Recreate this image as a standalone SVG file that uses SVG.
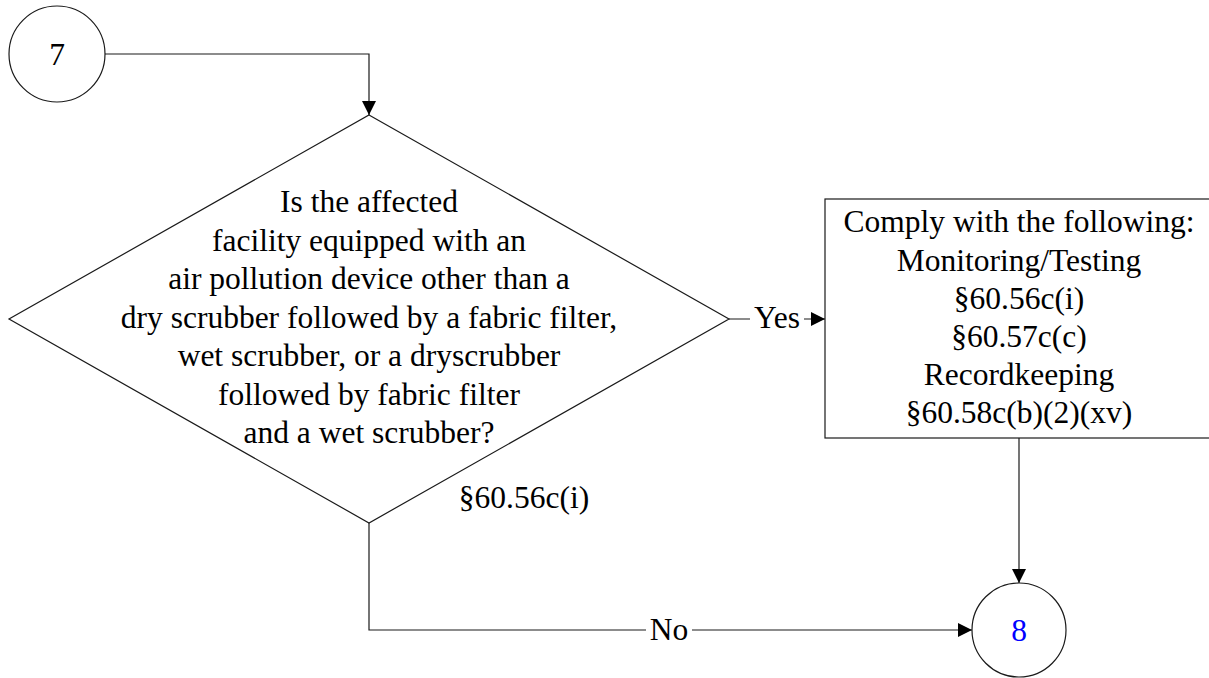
<svg xmlns="http://www.w3.org/2000/svg" width="1209" height="678" viewBox="0 0 1209 678">
<style>
  .shape { fill: #ffffff; stroke: #1a1a1a; stroke-width: 1.2; }
  .conn { fill: none; stroke: #1a1a1a; stroke-width: 1.2; }
  .t { font-family: "Liberation Serif", "Times New Roman", serif; font-size: 31.5px; fill: #000000; text-anchor: middle; }
  .lbl { font-family: "Liberation Serif", "Times New Roman", serif; font-size: 31.5px; fill: #000000; text-anchor: middle; }
</style>
<defs>
  <marker id="arrow" viewBox="0 0 14 14" refX="14" refY="7" markerWidth="14" markerHeight="14" markerUnits="userSpaceOnUse" orient="auto">
    <path d="M0,0 L14,7 L0,14 Z" fill="#000000"/>
  </marker>
</defs>
<rect x="0" y="0" width="1209" height="678" fill="#ffffff"/>

<g id="connectors">
  <path class="conn" d="M105,54 L369,54 L369,115" marker-end="url(#arrow)"/>
  <path class="conn" d="M729,319 L825,319" marker-end="url(#arrow)"/>
  <path class="conn" d="M1019,438 L1019,583" marker-end="url(#arrow)"/>
  <path class="conn" d="M369,523 L369,630 L972,630" marker-end="url(#arrow)"/>
  <rect x="750" y="300" width="54" height="36" fill="#ffffff"/>
  <text class="lbl" x="777" y="328">Yes</text>
  <rect x="646" y="612" width="46" height="36" fill="#ffffff"/>
  <text class="lbl" x="669" y="640">No</text>
</g>

<g id="start7">
  <circle class="shape" cx="57" cy="54" r="48"/>
  <text class="t" x="57" y="65">7</text>
</g>

<g id="decision">
  <polygon class="shape" points="369,115 729,319 369,523 9,319"/>
  <text class="t" x="369" y="212">Is the affected</text>
  <text class="t" x="369" y="250.5">facility equipped with an</text>
  <text class="t" x="369" y="289">air pollution device other than a</text>
  <text class="t" x="369" y="327.5">dry scrubber followed by a fabric filter,</text>
  <text class="t" x="369" y="366">wet scrubber, or a dryscrubber</text>
  <text class="t" x="369" y="404.5">followed by fabric filter</text>
  <text class="t" x="369" y="443">and a wet scrubber?</text>
  <text class="t" x="524" y="508">§60.56c(i)</text>
</g>

<g id="comply">
  <rect class="shape" x="825" y="199" width="400" height="239"/>
  <text class="t" x="1019" y="232">Comply with the following:</text>
  <text class="t" x="1019" y="270.5">Monitoring/Testing</text>
  <text class="t" x="1019" y="308.5">§60.56c(i)</text>
  <text class="t" x="1019" y="346.5">§60.57c(c)</text>
  <text class="t" x="1019" y="385">Recordkeeping</text>
  <text class="t" x="1019" y="423">§60.58c(b)(2)(xv)</text>
</g>

<g id="end8">
  <circle class="shape" cx="1019" cy="630" r="47"/>
  <text class="t" x="1019" y="641" fill="#0000ff" style="fill:#0000ff">8</text>
</g>
</svg>
